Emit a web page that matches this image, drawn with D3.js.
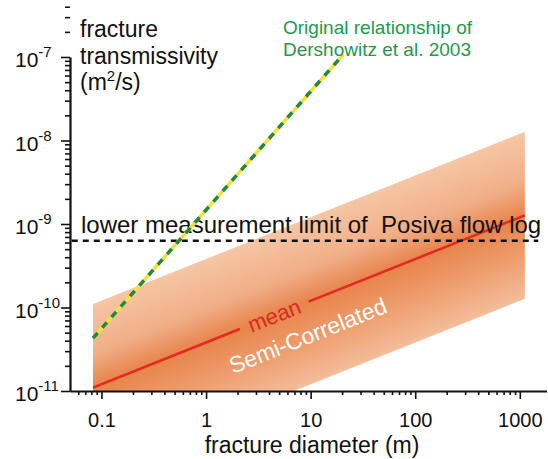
<!DOCTYPE html>
<html>
<head>
<meta charset="utf-8">
<script src="https://cdn.jsdelivr.net/npm/d3@7"></script>
<style>
  body { margin: 0; background: #fff; }
  svg, svg text { font-family: "Liberation Sans", Arial, Helvetica, sans-serif; }
  svg { display: block; }
</style>
</head>
<body>
<svg id="chart"></svg>
<script>
// values
var xMajor = [0.1, 1, 10, 100, 1000]
var xMajorLabels = ['0.1', '1', '10', '100', '1000']
var yMajor = [1e-11, 1e-10, 1e-9, 1e-8, 1e-7]
var yExponents = ['-11', '-10', '-9', '-8', '-7']

var meanLine = [{d: 0.083, t: 1.1e-11}, {d: 1117, t: 1.27e-9}]
var bandUpper = [{d: 0.083, t: 1.1e-10}, {d: 1117, t: 1.27e-8}]
var bandLower = [{d: 0.083, t: 1.1e-12}, {d: 1117, t: 1.27e-10}]
var dershowitz = [{d: 0.083, t: 4.3e-11}, {d: 20.5, t: 1.07e-7}]
var posivaLimit = [{d: 0.052, t: 6.3e-10}, {d: 1500, t: 6.3e-10}]

var meanLabel = {d: 4.5, t: 8.0e-11}
var semiLabel = {d: 9.4, t: 4.6e-11}

var font = '"Liberation Sans", Arial, Helvetica, sans-serif'

var width = 548,
    height = 459

var svg = d3.select('#chart')
            .attr('width', width)
            .attr('height', height)

var x = d3.scaleLog().domain([0.05, 1800]).range([70, 546.5])
var y = d3.scaleLog().domain([1e-11, 1e-7]).range([391, 57])

var line = d3.line().x((d) => x(d.d)).y((d) => y(d.t))

// angle of the mean line in pixels
var p0 = [x(meanLine[0].d), y(meanLine[0].t)]
var p1 = [x(meanLine[1].d), y(meanLine[1].t)]
var len = Math.hypot(p1[0] - p0[0], p1[1] - p0[1])
var ux = (p1[0] - p0[0]) / len, uy = (p1[1] - p0[1]) / len
var angle = Math.atan2(uy, ux) * 180 / Math.PI

var defs = svg.append('defs')
defs.append('clipPath').attr('id', 'plotClip')
  .append('rect').attr('x', 70).attr('y', 0).attr('width', width - 70).attr('height', 391)

// gradient running across the band, perpendicular to the mean line
var halfW = (y(bandLower[0].t) - y(meanLine[0].t)) * ux
var grad = defs.append('linearGradient')
  .attr('id', 'bandGrad')
  .attr('gradientUnits', 'userSpaceOnUse')
  .attr('x1', p0[0] + uy * halfW).attr('y1', p0[1] - ux * halfW)
  .attr('x2', p0[0] - uy * halfW).attr('y2', p0[1] + ux * halfW)
var stops = [[0, '#f6c6a6'], [0.3, '#f1ae86'], [0.5, '#e8844c'], [0.68, '#ec9765'], [1, '#f4bd9a']]
stops.forEach(function(s) {
  grad.append('stop').attr('offset', s[0]).attr('stop-color', s[1])
})

var plot = svg.append('g').attr('clip-path', 'url(#plotClip)')

//band polygon
var bandPts = bandUpper.concat(bandLower.slice().reverse())
plot.append('path')
  .attr('d', line(bandPts) + 'Z')
  .attr('fill', 'url(#bandGrad)')

// mean line with a gap for its label
var meanPath = plot.append('path')
  .attr('d', line(meanLine))
  .attr('fill', 'none')
  .attr('stroke', '#e3281c')
  .attr('stroke-width', 2.5)
var labelDist = Math.hypot(x(meanLabel.d) - p0[0], y(meanLabel.t) - p0[1])
var gap = 74
meanPath.attr('stroke-dasharray', `${labelDist - gap / 2},${gap},${len}`)

plot.append('text')
  .attr('transform', `translate(${x(meanLabel.d)},${y(meanLabel.t)}) rotate(${angle})`)
  .attr('text-anchor', 'middle')
  .attr('dominant-baseline', 'central')
  .style('font-size', '22px')
  .attr('fill', '#d92a1c')
  .text('mean')

plot.append('text')
  .attr('transform', `translate(${x(semiLabel.d)},${y(semiLabel.t)}) rotate(${angle})`)
  .attr('text-anchor', 'middle')
  .attr('dominant-baseline', 'central')
  .style('font-size', '23px')
  .attr('fill', '#fff')
  .text('Semi-Correlated')

// posiva lower limit
svg.append('path')
  .attr('d', line(posivaLimit))
  .attr('fill', 'none')
  .attr('stroke', '#111')
  .attr('stroke-width', 2.5)
  .attr('stroke-dasharray', '6,5')

svg.append('text')
  .attr('x', 81).attr('y', 233)
  .style('font-size', '24px')
  .attr('fill', '#111')
  .attr('xml:space', 'preserve')
  .style('white-space', 'pre')
  .text('lower measurement limit of  Posiva flow log')

// Dershowitz relationship, yellow under green dashes
svg.append('path')
  .attr('d', line(dershowitz))
  .attr('fill', 'none')
  .attr('stroke', '#f2e23c')
  .attr('stroke-width', 3.5)
svg.append('path')
  .attr('d', line(dershowitz))
  .attr('fill', 'none')
  .attr('stroke', '#1f8a3c')
  .attr('stroke-width', 3.5)
  .attr('stroke-dasharray', '7,7')

var green = svg.append('text')
  .style('font-size', '19px')
  .attr('fill', '#1d9a4c')
green.append('tspan').attr('x', 283).attr('y', 34).text('Original relationship of')
green.append('tspan').attr('x', 283).attr('y', 56).text('Dershowitz et al. 2003')

// axes
var xMinor = [], yMinor = []
for (var dec = 0.01; dec < 1800; dec *= 10) {
  for (var k = 2; k <= 9; k++) {
    var v = k * dec
    if (v > 0.055 && v < 1800) xMinor.push(v)
  }
}
for (var dec = 1e-11; dec < 1e-7; dec *= 10) {
  for (var k = 2; k <= 9; k++) yMinor.push(k * dec)
}

var xAxis = svg.append('g')
  .attr('transform', 'translate(0,391)')
  .call(d3.axisBottom(x).tickValues(xMajor).tickSize(8).tickSizeOuter(0).tickPadding(14)
    .tickFormat((d, i) => xMajorLabels[i]))
svg.append('g')
  .attr('transform', 'translate(0,391)')
  .call(d3.axisBottom(x).tickValues(xMinor).tickSize(4).tickFormat(''))
  .call((g) => g.select('.domain').remove())

var yAxis = svg.append('g')
  .attr('transform', 'translate(70,0)')
  .call(d3.axisLeft(y).tickValues(yMajor).tickSize(9).tickSizeOuter(0).tickFormat(''))
svg.append('g')
  .attr('transform', 'translate(70,0)')
  .call(d3.axisLeft(y).tickValues(yMinor).tickSize(5).tickFormat(''))
  .call((g) => g.select('.domain').remove())

svg.selectAll('.domain').attr('stroke', '#111').attr('stroke-width', 2.2)
svg.selectAll('.tick line').attr('stroke', '#111').attr('stroke-width', 1.6)
svg.selectAll('g').attr('font-family', font)
xAxis.selectAll('text')
  .style('font-size', '20px')
  .attr('fill', '#111')

var yLabels = svg.append('g').selectAll('text')
  .data(yMajor)
  .enter()
  .append('text')
  .attr('x', 15)
  .attr('y', (d) => y(d) + 10)
  .style('font-size', '21px')
  .attr('fill', '#111')
yLabels.append('tspan').text('10')
yLabels.append('tspan')
  .attr('dy', -10)
  .style('font-size', '15px')
  .text((d, i) => yExponents[i])

// axis titles
svg.append('text')
  .attr('x', 312).attr('y', 453)
  .attr('text-anchor', 'middle')
  .style('font-size', '23px')
  .attr('fill', '#111')
  .text('fracture diameter (m)')

var yTitle = svg.append('text')
  .style('font-size', '23px')
  .attr('fill', '#111')
yTitle.append('tspan').attr('x', 80).attr('y', 37).text('fracture')
yTitle.append('tspan').attr('x', 80).attr('y', 64).text('transmissivity')
yTitle.append('tspan').attr('x', 80).attr('y', 90).text('(m')
yTitle.append('tspan').attr('dy', -9).style('font-size', '15px').text('2')
yTitle.append('tspan').attr('dy', 9).text('/s)')

svg.selectAll('text').style('font-family', font)
</script>
</body>
</html>
